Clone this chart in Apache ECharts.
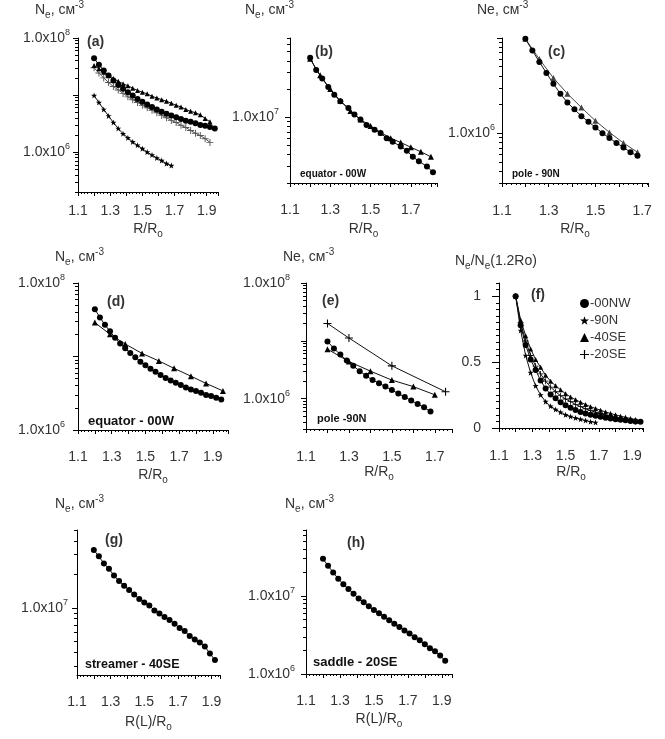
<!DOCTYPE html>
<html>
<head>
<meta charset="utf-8">
<script src="https://cdn.jsdelivr.net/npm/echarts@6/dist/echarts.min.js"></script>
<style>
html, body { margin: 0; padding: 0; background: #fff; }
#chart { width: 665px; height: 739px; }
</style>
</head>
<body>
<div id="chart"></div>
<script>
// radius grids (R/Ro)
const rEquator = [1.20,1.23,1.26,1.29,1.32,1.35,1.38,1.41,1.44,1.47,1.50,1.53,1.56,1.59,1.62,1.65,1.68,1.71,1.74,1.77,1.80,1.83,1.86,1.89,1.92,1.95];
const rPole = [1.20,1.23,1.26,1.29,1.32,1.35,1.38,1.41,1.44,1.47,1.50,1.53,1.56,1.59,1.62,1.65,1.68];
const rL = [1.20,1.23,1.26,1.29,1.32,1.35,1.38,1.41,1.44,1.47,1.50,1.53,1.56,1.59,1.62,1.65,1.68,1.71,1.74,1.77,1.80,1.83,1.86,1.89,1.92];

// Ne, cm-3
const neEquator = [4.4e7,3.4e7,2.7e7,2.2e7,1.8e7,1.5e7,1.29e7,1.12e7,9.8e6,8.5e6,7.6e6,6.8e6,6.2e6,5.6e6,5.1e6,4.7e6,4.4e6,4.1e6,3.8e6,3.55e6,3.4e6,3.2e6,3.0e6,2.9e6,2.75e6,2.6e6];
const nePole = [9.8e6,7.4e6,5.6e6,4.3e6,3.3e6,2.6e6,2.1e6,1.78e6,1.51e6,1.32e6,1.15e6,1.0e6,8.9e5,7.9e5,7.1e5,6.3e5,5.8e5];
const neStreamer = [3.3e7,2.9e7,2.5e7,2.24e7,1.95e7,1.74e7,1.58e7,1.45e7,1.32e7,1.2e7,1.12e7,1.05e7,9.5e6,8.9e6,8.3e6,7.8e6,7.2e6,6.6e6,6.2e6,5.6e6,5.2e6,4.9e6,4.5e6,3.9e6,3.4e6];
const neSaddle = [3.0e7,2.43e7,2.0e7,1.66e7,1.41e7,1.23e7,1.07e7,9.3e6,8.3e6,7.4e6,6.6e6,6.0e6,5.4e6,4.9e6,4.4e6,4.0e6,3.6e6,3.3e6,2.95e6,2.7e6,2.4e6,2.14e6,1.95e6,1.72e6,1.48e6];

// (b)
const rB = [1.20,1.23,1.26,1.29,1.32,1.35,1.39,1.42,1.45,1.48,1.52,1.55,1.58,1.61,1.65,1.68,1.71,1.74,1.78,1.81];
const neB = [4.3e7,3.2e7,2.6e7,2.1e7,1.74e7,1.48e7,1.26e7,1.07e7,9.5e6,8.3e6,7.4e6,6.8e6,6.0e6,5.5e6,4.9e6,4.4e6,3.8e6,3.4e6,3.0e6,2.6e6];
const rBTri = [1.20,1.25,1.30,1.35,1.40,1.45,1.50,1.55,1.60,1.65,1.70,1.75,1.80];
const neBTri = [4.2e7,2.8e7,2.0e7,1.5e7,1.17e7,9.5e6,8.1e6,6.9e6,6.0e6,5.4e6,4.8e6,4.3e6,3.8e6];

// (c)
const rCTri = [1.20,1.26,1.32,1.38,1.44,1.50,1.56,1.62,1.68];
const neCTri = [9.8e6,6.0e6,3.8e6,2.6e6,1.86e6,1.35e6,1.02e6,7.9e5,6.3e5];

// (d)
const rDTri = [1.20,1.29,1.38,1.48,1.58,1.67,1.77,1.86,1.96];
const neDTri = [2.9e7,2.0e7,1.48e7,1.1e7,8.7e6,6.9e6,5.4e6,4.3e6,3.4e6];

// (e)
const neE = [9.8e6,7.4e6,5.8e6,4.6e6,3.7e6,3.0e6,2.5e6,2.1e6,1.86e6,1.62e6,1.41e6,1.23e6,1.07e6,9.3e5,8.1e5,7.1e5,6.0e5];
const rETri = [1.2,1.3,1.4,1.5,1.6,1.7];
const neETri = [7.2e6,4.4e6,3.0e6,2.1e6,1.62e6,1.17e6];
const rEPlus = [1.2,1.3,1.5,1.75];
const neEPlus = [2.0e7,1.12e7,3.7e6,1.32e6];

// (f) Ne/Ne(1.2Ro)
const f00NW = [1,0.78,0.63,0.52,0.44,0.36,0.30,0.255,0.225,0.195,0.172,0.153,0.137,0.122,0.11,0.10,0.092,0.085,0.078,0.072,0.067,0.062,0.058,0.054,0.05,0.047];
const f90N = [1,0.74,0.55,0.42,0.32,0.25,0.2,0.165,0.14,0.12,0.1,0.087,0.076,0.066,0.057,0.048,0.042];
const f40SE = [1,0.82,0.70,0.60,0.52,0.46,0.40,0.355,0.32,0.29,0.26,0.235,0.215,0.195,0.178,0.162,0.148,0.135,0.122,0.11,0.1,0.09,0.081,0.072,0.064];
const f20SE = [1,0.80,0.66,0.55,0.47,0.41,0.355,0.31,0.275,0.245,0.22,0.20,0.178,0.162,0.146,0.132,0.12,0.11,0.098,0.089,0.079,0.071,0.065,0.057,0.049];

const xLabelVals = [1.1,1.3,1.5,1.7,1.9];
const fLabelVals = [0,0.5,1];

const FONT = '"Liberation Sans", Arial, sans-serif';
const INK = '#333';
const AX = { color: '#000', width: 1 };
const STAR = 'path://M12,0 L15,8.5 L24,8.5 L17,14 L19.5,23 L12,17.5 L4.5,23 L7,14 L0,8.5 L9,8.5 Z';
const PLUS = 'path://M5.2,0 H6.8 V5.2 H12 V6.8 H6.8 V12 H5.2 V6.8 H0 V5.2 H5.2 Z';

const grid = [], xAxis = [], yAxis = [], series = [], title = [];

function logMajors(min, max) {
  const out = [];
  for (let e = Math.floor(Math.log10(min)); e <= Math.ceil(Math.log10(max)); e++) {
    const v = Math.pow(10, e);
    if (v >= min * 0.999 && v <= max * 1.001) out.push(v);
  }
  return out;
}
function logMinors(min, max) {
  const out = [];
  for (let e = Math.floor(Math.log10(min)); e <= Math.ceil(Math.log10(max)); e++) {
    for (let m = 2; m <= 9; m++) {
      const v = m * Math.pow(10, e);
      if (v >= min * 0.999 && v <= max * 1.001) out.push(v);
    }
  }
  return out;
}

const textRich = {
  n: { fontSize: 14, lineHeight: 20, fontWeight: 'normal', color: INK, fontFamily: FONT },
  lo: { fontSize: 10, lineHeight: 10, fontWeight: 'normal', verticalAlign: 'bottom', color: INK, fontFamily: FONT },
  hi: { fontSize: 10, lineHeight: 10, fontWeight: 'normal', verticalAlign: 'top', color: INK, fontFamily: FONT }
};

function addPanel(p) {
  const gi = grid.length;
  grid.push({ left: p.box[0], top: p.box[1], width: p.box[2], height: p.box[3] });
  xAxis.push({
    type: 'value', gridIndex: gi, min: 1.1, max: p.xMax, interval: 0.1,
    axisLine: { show: true, onZero: false, lineStyle: AX },
    axisTick: { show: true, length: 4, lineStyle: AX },
    minorTick: { show: true, splitNumber: 5, length: 2, lineStyle: AX },
    splitLine: { show: false },
    axisLabel: {
      customValues: xLabelVals.filter(v => v <= p.xMax + 1e-9),
      formatter: v => v.toFixed(1), margin: p.xMargin,
      color: INK, fontSize: 14, fontFamily: FONT
    },
    name: '{n|' + p.xName + '}{lo|o}', nameLocation: 'middle', nameGap: p.nameGap,
    nameTextStyle: { rich: textRich }
  });
  const yi = yAxis.length;
  if (p.log) {
    const common = { type: 'log', logBase: 10, gridIndex: gi, position: 'left', min: p.yMin, max: p.yMax, splitLine: { show: false } };
    yAxis.push(Object.assign({}, common, {
      axisLine: { show: true, onZero: false, lineStyle: AX },
      axisTick: { show: true, length: 5, customValues: logMajors(p.yMin, p.yMax), lineStyle: AX },
      axisLabel: {
        customValues: p.labels, margin: p.yMargin,
        formatter: v => '{m|1.0x10}{e|' + Math.round(Math.log10(v)) + '}',
        rich: {
          m: { fontSize: 14, lineHeight: 20, color: INK, fontFamily: FONT },
          e: { fontSize: 9, lineHeight: 9, verticalAlign: 'top', color: INK, fontFamily: FONT }
        }
      }
    }));
    yAxis.push(Object.assign({}, common, {
      axisLine: { show: false },
      axisTick: { show: true, length: 3, customValues: logMinors(p.yMin, p.yMax), lineStyle: AX },
      axisLabel: { show: false }
    }));
  } else {
    const minors = [];
    for (let k = 1; k <= 22; k++) if (k % 10 !== 0) minors.push(k * 0.05);
    const common = { type: 'value', gridIndex: gi, position: 'left', min: 0, max: 1.1, splitLine: { show: false } };
    yAxis.push(Object.assign({}, common, {
      axisLine: { show: true, onZero: false, lineStyle: AX },
      axisTick: { show: true, length: 7, customValues: fLabelVals, lineStyle: AX },
      axisLabel: { customValues: fLabelVals, margin: p.yMargin, formatter: v => String(v), color: INK, fontSize: 14, fontFamily: FONT }
    }));
    yAxis.push(Object.assign({}, common, {
      axisLine: { show: false },
      axisTick: { show: true, length: 3, customValues: minors, lineStyle: AX },
      axisLabel: { show: false }
    }));
  }
  title.push({ text: p.yTitle, left: p.yt[0], top: p.yt[1], padding: 0,
    textStyle: { fontWeight: 'normal', rich: textRich } });
  title.push({ text: p.tag, left: p.tagPos[0], top: p.tagPos[1], padding: 0,
    textStyle: { fontSize: 14, fontWeight: 'bold', color: INK, fontFamily: FONT } });
  if (p.note) {
    title.push({ text: p.note, left: p.notePos[0], top: p.notePos[1], padding: 0,
      textStyle: { fontSize: p.noteSize, fontWeight: 'bold', color: '#111', fontFamily: FONT } });
  }
  return { gi, yi };
}

function addLine(name, ax, xs, ys, symbol, size, color) {
  series.push({
    type: 'line', name, xAxisIndex: ax.gi, yAxisIndex: ax.yi,
    data: xs.map((x, k) => [x, ys[k]]),
    symbol, symbolSize: size, showSymbol: true, silent: true,
    lineStyle: { color: color || '#111', width: 1 },
    itemStyle: { color: color || '#000' }
  });
}

const NE = '{n|N}{lo|e}{n|, см}{hi|-3}';
const NE_PLAIN = '{n|Ne, см}{hi|-3}';

const pa = addPanel({ box: [78, 38, 140, 154], xMax: 1.97, log: true, yMin: 2e5, yMax: 1e8, labels: [1e6, 1e8],
  yMargin: 8, xMargin: 12, nameGap: 27, xName: 'R/R', yTitle: NE, yt: [35, 0], tag: '(a)', tagPos: [87, 35] });
addLine('a-20SE', pa, rL, neSaddle, PLUS, 7, '#555');
addLine('a-40SE', pa, rL, neStreamer, 'triangle', 5);
addLine('a-00NW', pa, rEquator, neEquator, 'circle', 6);
addLine('a-90N', pa, rPole, nePole, STAR, 6);

const pb = addPanel({ box: [290, 38, 147, 145], xMax: 1.83, log: true, yMin: 2e6, yMax: 7e7, labels: [1e7],
  yMargin: 11, xMargin: 20, nameGap: 36, xName: 'R/R', yTitle: NE, yt: [245, 0], tag: '(b)', tagPos: [315, 45],
  note: 'equator - 00W', notePos: [300, 169], noteSize: 10 });
addLine('b-tri', pb, rBTri, neBTri, 'triangle', 6);
addLine('b-circ', pb, rB, neB, 'circle', 6);

const pc = addPanel({ box: [502, 38, 146, 145], xMax: 1.725, log: true, yMin: 3e5, yMax: 1e7, labels: [1e6],
  yMargin: 7, xMargin: 21, nameGap: 36, xName: 'R/R', yTitle: NE_PLAIN, yt: [477, 0], tag: '(c)', tagPos: [548, 45],
  note: 'pole - 90N', notePos: [512, 169], noteSize: 10 });
addLine('c-tri', pc, rCTri, neCTri, 'triangle', 6, '#444');
addLine('c-circ', pc, rPole, nePole, 'circle', 6);

const pd = addPanel({ box: [78, 283, 150, 147], xMax: 1.99, log: true, yMin: 1e6, yMax: 1e8, labels: [1e6, 1e8],
  yMargin: 13, xMargin: 20, nameGap: 35, xName: 'R/R', yTitle: NE, yt: [55, 247], tag: '(d)', tagPos: [107, 295],
  note: 'equator - 00W', notePos: [88, 415], noteSize: 13 });
addLine('d-tri', pd, rDTri, neDTri, 'triangle', 6);
addLine('d-circ', pd, rEquator, neEquator, 'circle', 6);

const pe = addPanel({ box: [306, 283, 146, 146], xMax: 1.78, log: true, yMin: 3e5, yMax: 1e8, labels: [1e6, 1e8],
  yMargin: 16, xMargin: 21, nameGap: 33, xName: 'R/R', yTitle: NE_PLAIN, yt: [283, 247], tag: '(e)', tagPos: [322, 294],
  note: 'pole -90N', notePos: [317, 413], noteSize: 11 });
addLine('e-plus', pe, rEPlus, neEPlus, PLUS, 8);
addLine('e-tri', pe, rETri, neETri, 'triangle', 6);
addLine('e-circ', pe, rPole, neE, 'circle', 6);

const pf = addPanel({ box: [499, 283, 144, 145], xMax: 1.965, log: false,
  yMargin: 18, xMargin: 21, nameGap: 34, xName: 'R/R', yTitle: '{n|N}{lo|e}{n|/N}{lo|e}{n|(1.2Ro)}', yt: [455, 251],
  tag: '(f)', tagPos: [531, 288] });
addLine('-40SE', pf, rL, f40SE, 'triangle', 5);
addLine('-20SE', pf, rL, f20SE, PLUS, 6);
addLine('-00NW', pf, rEquator, f00NW, 'circle', 6);
addLine('-90N', pf, rPole, f90N, STAR, 6);

const pg = addPanel({ box: [77, 530, 143, 145], xMax: 1.95, log: true, yMin: 2.5e6, yMax: 5e7, labels: [1e7],
  yMargin: 9, xMargin: 20, nameGap: 37, xName: 'R(L)/R', yTitle: NE, yt: [55, 494], tag: '(g)', tagPos: [105, 533],
  note: 'streamer - 40SE', notePos: [85, 658], noteSize: 12.5 });
addLine('g-streamer', pg, rL, neStreamer, 'circle', 6);

const ph = addPanel({ box: [306, 530, 146, 144], xMax: 1.96, log: true, yMin: 1e6, yMax: 7e7, labels: [1e6, 1e7],
  yMargin: 11, xMargin: 20, nameGap: 35, xName: 'R(L)/R', yTitle: NE, yt: [285, 494], tag: '(h)', tagPos: [347, 536],
  note: 'saddle - 20SE', notePos: [313, 656], noteSize: 13 });
addLine('h-saddle', ph, rL, neSaddle, 'circle', 6);

const chart = echarts.init(document.getElementById('chart'));
chart.setOption({
  animation: false,
  backgroundColor: '#fff',
  title,
  grid, xAxis, yAxis, series,
  legend: {
    left: 575, top: 292, orient: 'vertical', itemGap: 4, itemWidth: 9, itemHeight: 9,
    selectedMode: false,
    textStyle: { fontSize: 13, color: INK, fontFamily: FONT, padding: [0, 0, 0, -4] },
    data: [
      { name: '-00NW', icon: 'circle' },
      { name: '-90N', icon: STAR },
      { name: '-40SE', icon: 'triangle' },
      { name: '-20SE', icon: PLUS }
    ]
  }
});
</script>
</body>
</html>
